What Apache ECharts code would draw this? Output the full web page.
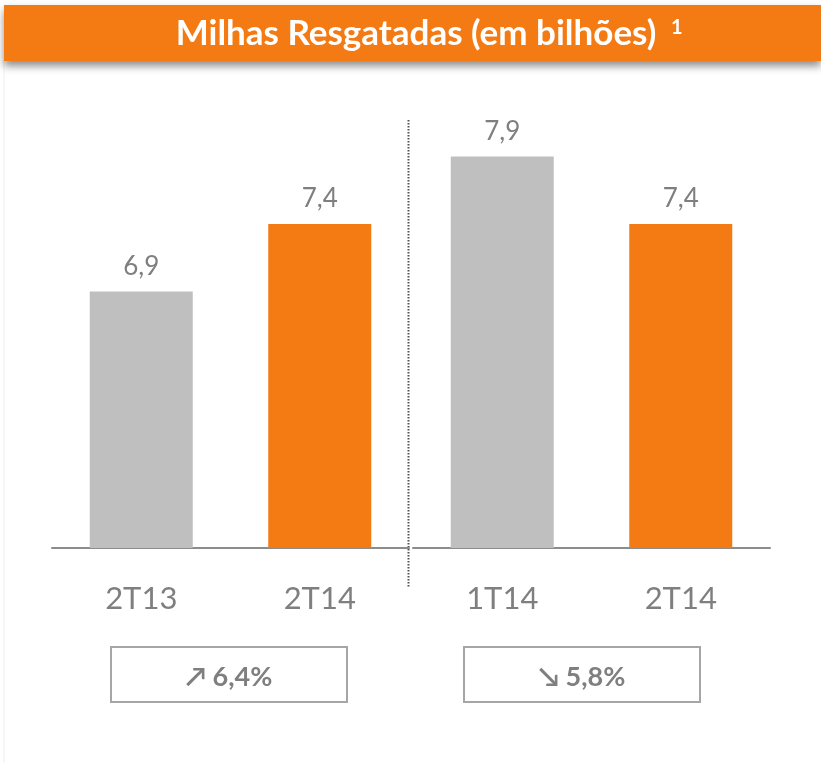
<!DOCTYPE html>
<html><head><meta charset="utf-8">
<script src="https://cdn.jsdelivr.net/npm/echarts@6/dist/echarts.min.js"></script>
<style>html,body{margin:0;padding:0;background:#fff}#c{width:821px;height:763px}</style>
</head><body><div id="c"></div>
<script>
var titleText = 'Milhas Resgatadas (em bilhões)';
var leftCategories = ['2T13', '2T14'];
var leftValues = [6.9, 7.4];
var rightCategories = ['1T14', '2T14'];
var rightValues = [7.9, 7.4];
var changeLeft = '↗ 6,4%';
var changeRight = '↘ 5,8%';

var GRAY = '#bfbfbf', ORANGE = '#f47a14', TXT = '#7f7f7f';
function colored(vals){
  return vals.map(function(v,i){return {value:v,itemStyle:{color:i===0?GRAY:ORANGE}};});
}
var chart = echarts.init(document.getElementById('c'));
var label = {show:true,position:'top',distance:12,color:TXT,fontSize:26,fontFamily:'Lato, "Open Sans", sans-serif',
  formatter:function(p){return String(p.value).replace('.',',');}};
function xAxis(idx, cats){
  return {type:'category',gridIndex:idx,data:cats,
    axisLine:{lineStyle:{color:'#8c8c8c',width:2}},axisTick:{show:false},
    axisLabel:{color:TXT,fontSize:31,margin:35,fontFamily:'Lato, "Open Sans", sans-serif'}};
}
function yAxis(idx){
  return {type:'value',gridIndex:idx,min:5,max:8,show:false,splitLine:{show:false}};
}
chart.setOption({
  animation:false,
  backgroundColor:'#fff',
  grid:[{left:52,width:357,top:143,height:405},{left:413,width:357,top:143,height:405}],
  xAxis:[xAxis(0,leftCategories),xAxis(1,rightCategories)],
  yAxis:[yAxis(0),yAxis(1)],
  series:[
    {type:'bar',xAxisIndex:0,yAxisIndex:0,data:colored(leftValues),barWidth:103,label:label},
    {type:'bar',xAxisIndex:1,yAxisIndex:1,data:colored(rightValues),barWidth:103,label:label}
  ],
  graphic:[
    {type:'line',shape:{x1:4,y1:60,x2:4,y2:763},style:{stroke:'#eeeeee',lineWidth:1}},
    {type:'rect',shape:{x:4,y:5,width:817,height:56},
      style:{fill:ORANGE,shadowBlur:8,shadowOffsetY:5,shadowColor:'rgba(0,0,0,0.45)'}},
    {type:'text',x:416,y:34,style:{text:titleText,fill:'#fff',fontSize:35,fontWeight:'bold',
      fontFamily:'Lato, "Open Sans", sans-serif',align:'center',verticalAlign:'middle'}},
    {type:'text',x:671,y:28,style:{text:'1',fill:'#fff',fontSize:20,fontWeight:'bold',
      fontFamily:'Lato, "Open Sans", sans-serif',align:'left',verticalAlign:'middle'}},
    {type:'line',shape:{x1:408.5,y1:120,x2:408.5,y2:588},style:{stroke:'#555',lineWidth:2,lineDash:[1.5,1.5]}},
    {type:'rect',shape:{x:111,y:647,width:236,height:55},style:{fill:'#fff',stroke:'#a6a6a6',lineWidth:2}},
    {type:'text',x:229,y:677,style:{text:changeLeft,fill:TXT,fontSize:27,fontWeight:'bold',
      fontFamily:'Lato, "DejaVu Sans", sans-serif',align:'center',verticalAlign:'middle'}},
    {type:'rect',shape:{x:464,y:647,width:236,height:55},style:{fill:'#fff',stroke:'#a6a6a6',lineWidth:2}},
    {type:'text',x:582,y:677,style:{text:changeRight,fill:TXT,fontSize:27,fontWeight:'bold',
      fontFamily:'Lato, "DejaVu Sans", sans-serif',align:'center',verticalAlign:'middle'}}
  ]
});
</script></body></html>
